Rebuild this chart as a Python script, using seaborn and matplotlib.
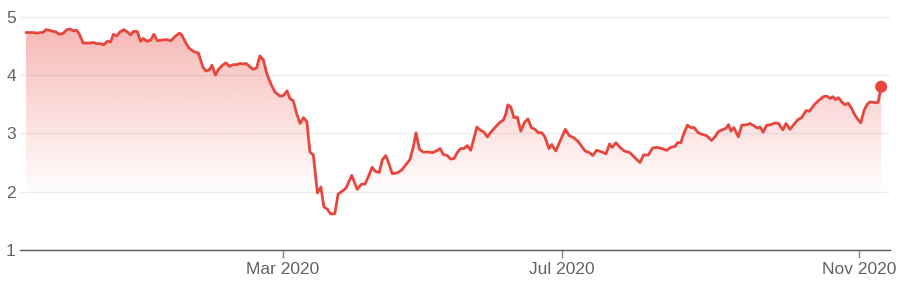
import numpy as np
import pandas as pd
import matplotlib
matplotlib.use("Agg")
import matplotlib.pyplot as plt
import seaborn as sns
from matplotlib.patches import Polygon
from matplotlib.colors import to_rgb

# trading-session index (x) and closing price (y)
session = [0.3, 2.4, 3.6, 4.4, 5.2, 6.2, 7.1, 8.3, 9.1, 10.1, 11.1, 12.3, 13.2, 14.2, 15.2, 16.0,
           17.1, 18.1, 19.3, 20.3, 20.9, 22.1, 23.2, 24.2, 25.2, 26.0, 27.0, 27.9, 29.1, 30.1,
           31.1, 31.9, 33.0, 34.0, 34.8, 35.8, 37.0, 37.9, 38.9, 40.2, 41.5, 42.9, 44.1, 45.4,
           46.1, 47.4, 48.3, 49.7, 51.0, 51.5, 52.3, 53.2, 54.2, 55.0, 56.0, 56.9, 58.1, 59.1,
           60.1, 61.3, 62.4, 63.2, 64.2, 65.0, 66.0, 67.1, 68.1, 69.1, 70.1, 71.1, 72.3, 73.5,
           75.0, 76.0, 77.1, 77.9, 78.9, 79.9, 80.9, 81.9, 82.9, 83.8, 84.8, 86.0, 87.0, 87.9,
           88.9, 89.9, 91.1, 92.1, 93.1, 94.4, 96.1, 97.7, 99.0, 100.0, 101.0, 102.1, 103.0,
           104.2, 105.1, 106.1, 107.1, 108.0, 109.3, 110.8, 112.1, 113.2, 114.2, 115.0, 116.0,
           117.1, 118.6, 119.9, 121.3, 122.1, 123.0, 124.2, 125.2, 126.2, 127.1, 128.1, 129.1,
           130.1, 131.1, 132.1, 132.9, 133.8, 135.0, 136.0, 137.0, 138.2, 139.5, 140.7, 141.4,
           142.0, 142.9, 143.8, 144.8, 145.8, 146.8, 147.9, 148.9, 150.0, 151.0, 152.0, 152.9,
           154.1, 154.9, 156.1, 157.6, 158.9, 160.1, 161.3, 162.7, 163.7, 164.7, 166.0, 167.0,
           168.1, 169.3, 170.9, 171.9, 172.7, 173.8, 175.0, 176.2, 177.9, 179.4, 180.9, 181.9,
           183.3, 184.6, 186.0, 187.3, 188.7, 189.9, 191.2, 191.9, 192.9, 193.6, 194.8, 195.8,
           196.8, 198.0, 199.3, 200.5, 201.9, 202.9, 203.9, 205.4, 206.2, 206.9, 207.6, 208.5,
           209.8, 210.8, 212.3, 213.2, 214.4, 215.4, 216.2, 217.1, 218.1, 219.3, 220.6, 221.6,
           222.9, 223.8, 225.0, 226.5, 227.4, 228.4, 229.7, 230.7, 232.1, 233.3, 234.8, 235.8,
           236.8, 237.6, 238.3, 239.3, 240.2, 241.2, 242.1, 243.1, 244.1, 245.1, 245.8, 246.8,
           247.7, 248.5, 250.0, 250.9, 251.8]
price = [4.73, 4.73, 4.72, 4.73, 4.73, 4.78, 4.77, 4.75, 4.74, 4.70, 4.71, 4.78, 4.79, 4.76, 4.77, 4.70,
         4.55, 4.55, 4.55, 4.56, 4.54, 4.54, 4.52, 4.58, 4.57, 4.70, 4.67, 4.74, 4.78, 4.74,
         4.69, 4.75, 4.75, 4.58, 4.63, 4.58, 4.60, 4.70, 4.59, 4.60, 4.61, 4.59, 4.66, 4.72,
         4.69, 4.54, 4.46, 4.40, 4.38, 4.29, 4.14, 4.07, 4.09, 4.17, 4.00, 4.10, 4.17, 4.21,
         4.15, 4.18, 4.18, 4.20, 4.19, 4.20, 4.15, 4.10, 4.12, 4.33, 4.26, 4.03, 3.85, 3.71,
         3.64, 3.65, 3.73, 3.60, 3.56, 3.34, 3.17, 3.27, 3.20, 2.68, 2.63, 1.98, 2.08, 1.74,
         1.70, 1.62, 1.62, 1.96, 2.00, 2.06, 2.28, 2.04, 2.13, 2.13, 2.26, 2.42, 2.35,
         2.33, 2.55, 2.62, 2.47, 2.31, 2.32, 2.37, 2.47, 2.55, 2.77, 3.01, 2.73,
         2.68, 2.68, 2.67, 2.71, 2.74, 2.64, 2.62, 2.56, 2.57, 2.67, 2.74, 2.74,
         2.79, 2.71, 2.93, 3.11, 3.06, 3.02, 2.94, 3.02, 3.10, 3.18, 3.23, 3.33,
         3.49, 3.45, 3.27, 3.28, 3.04, 3.18, 3.25, 3.10, 3.07, 3.01, 3.01, 2.94,
         2.74, 2.81, 2.70, 2.90, 3.07, 2.96, 2.93, 2.86, 2.78, 2.70, 2.67, 2.62,
         2.71, 2.69, 2.65, 2.82, 2.76, 2.84, 2.76, 2.70, 2.67, 2.58, 2.50, 2.63,
         2.63, 2.75, 2.76, 2.74, 2.71, 2.76, 2.78, 2.84, 2.84, 2.97, 3.14, 3.10,
         3.10, 3.01, 2.98, 2.96, 2.88, 2.94, 3.03, 3.07, 3.09, 3.15, 3.04, 3.10,
         2.94, 3.14, 3.15, 3.17, 3.13, 3.09, 3.11, 3.02, 3.14, 3.15, 3.18, 3.17,
         3.06, 3.17, 3.07, 3.18, 3.24, 3.27, 3.39, 3.38, 3.49, 3.56, 3.63, 3.64,
         3.60, 3.63, 3.58, 3.61, 3.54, 3.49, 3.52, 3.43, 3.31, 3.23, 3.18, 3.40,
         3.50, 3.54, 3.53, 3.53, 3.80]

x_tick_pos = [75.8, 157.9, 245.4]
x_tick_labels = ["Mar 2020", "Jul 2020", "Nov 2020"]
y_ticks = [1, 2, 3, 4, 5]

RED = "#e8453c"
GREY = "#5f6368"

sns.set_theme(style="white")
plt.rcParams['font.family'] = ['Liberation Sans', 'DejaVu Sans']

fig = plt.figure(figsize=(9.09, 2.89), dpi=100)
ax = fig.add_axes([20 / 909, 39 / 289, 870 / 909, 240 / 289])

df = pd.DataFrame({"session": session, "price": price})

# gradient fill under the line
verts = [(session[0], 1)] + list(zip(session, price)) + [(session[-1], 1)]
poly = Polygon(verts, facecolor="none", edgecolor="none")
ax.add_patch(poly)
ys = np.linspace(1, 5, 300)
alpha = np.clip((ys - 1.9) / (5 - 1.9), 0, 1) * 0.4
img = np.zeros((300, 1, 4))
img[..., :3] = to_rgb(RED)
img[:, 0, 3] = alpha
im = ax.imshow(img, extent=[session[0], session[-1], 1, 5], origin="lower",
               aspect="auto", zorder=1, interpolation="bilinear")
im.set_clip_path(poly)

sns.lineplot(data=df, x="session", y="price", ax=ax, color=RED, lw=2.0, zorder=3)
sns.scatterplot(x=[session[-1]], y=[price[-1]], ax=ax, color=RED, s=75,
                edgecolor="none", zorder=4)

ax.set_xlim(-1.47, 254.4)
ax.set_ylim(1, 1 + 240 / 58.3)
ax.set_yticks(y_ticks)
ax.set_yticklabels([str(v) for v in y_ticks])
ax.set_xticks(x_tick_pos)
ax.set_xticklabels(x_tick_labels)
ax.set_xlabel("")
ax.set_ylabel("")

ax.yaxis.grid(True, color="#eeeeee", lw=1.0, zorder=0)
ax.xaxis.grid(False)
for s in ["top", "right", "left"]:
    ax.spines[s].set_visible(False)
ax.spines["bottom"].set_color("#555a5f")
ax.spines["bottom"].set_linewidth(1.0)
ax.spines["bottom"].set_zorder(5)

ax.tick_params(axis="y", length=0, pad=3, labelsize=12.5, labelcolor=GREY)
ax.tick_params(axis="x", length=6, width=1, color="#888888", direction="out",
               pad=3, labelsize=12.5, labelcolor=GREY, bottom=True)

fig.savefig("out.png", dpi=100, facecolor="white")
